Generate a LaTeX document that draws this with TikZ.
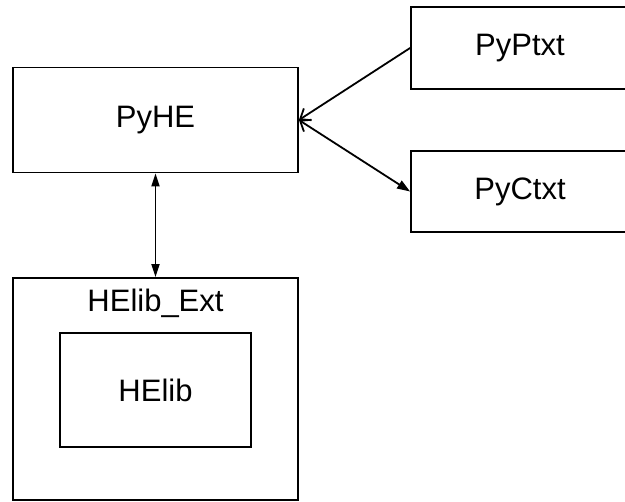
\documentclass[tikz,border=0pt]{standalone}
\usepackage{fontspec}
\setmainfont{Liberation Sans}
\usepackage{tikz}
\usetikzlibrary{arrows.meta}

\begin{document}
\begin{tikzpicture}[x=1pt,y=-1pt,
  box/.style={draw,line width=1.8pt,inner sep=0pt,font=\fontsize{31}{36}\selectfont},
  link/.style={line width=1.8pt}]
\useasboundingbox (0,0) rectangle (625,502);
\node[box,minimum width=285pt,minimum height=105pt] (pyhe) at (155.5,120) {PyHE};
\node[box,minimum width=218pt,minimum height=82pt] (pyptxt) at (520,48) {PyPtxt};
\node[box,minimum width=218pt,minimum height=81pt] (pyctxt) at (520,191.5) {PyCtxt};
\node[box,minimum width=285pt,minimum height=222pt] (helibext) at (155.5,389) {};
\node[font=\fontsize{31}{36}\selectfont] (helibextlabel) at (155.5,303) {HElib\_Ext};
\node[box,minimum width=191pt,minimum height=114pt] (helib) at (155.5,390) {HElib};
% connectors
\draw[link,-{Straight Barb[length=9pt,width=14pt]}] (pyptxt.west) -- (pyhe.east);
\draw[link,{Straight Barb[length=9pt,width=14pt]}-{Triangle[length=13pt,width=9pt]}] (pyhe.east) -- (pyctxt.west);
\draw[link,{Triangle[length=13pt,width=8pt]}-{Triangle[length=13pt,width=8pt]}] (pyhe.south) -- (helibext.north);
\end{tikzpicture}
\end{document}
